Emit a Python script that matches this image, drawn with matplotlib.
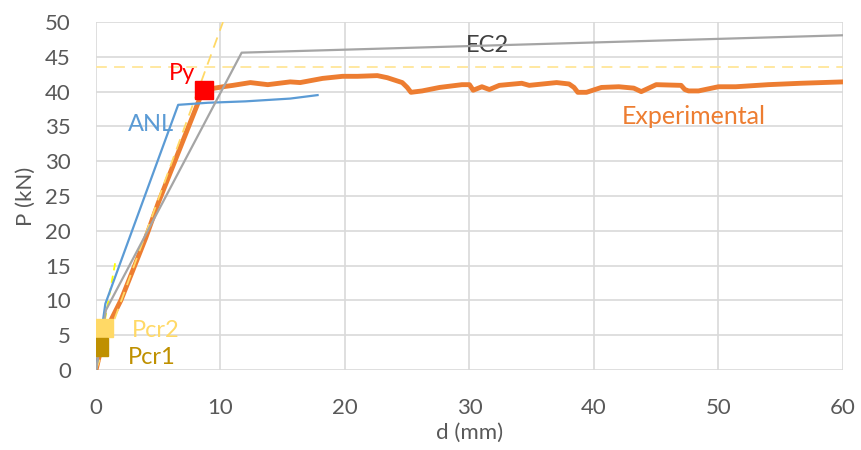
import matplotlib
matplotlib.use("Agg")
import matplotlib.pyplot as plt

plt.rcParams['font.family'] = ['Lato', 'DejaVu Sans']

# Experimental curve
exp_d = [0, 0.4, 0.8, 1.3, 2, 3, 4, 5, 6, 7, 8, 8.6, 9.2, 10.2, 11, 12.4, 13.8, 15.6, 16.4, 18.2,
         19.8, 21, 22.6, 23.4, 24.6, 25.0, 25.3, 26.2, 27.6, 29.4, 30.0, 30.3, 31, 31.6, 32.4, 34.2,
         34.8, 37, 38, 38.4, 38.7, 39.4, 40.6, 42, 43.2, 43.8, 45, 47, 47.3, 47.6, 48.4, 50, 51.4,
         54, 56.6, 60]
exp_p = [0, 3, 5.5, 7.5, 10, 14.5, 19, 24, 28.5, 33, 37.5, 40.2, 40.4, 40.7, 40.9, 41.3, 41.0, 41.4,
         41.3, 41.9, 42.2, 42.2, 42.3, 42.0, 41.3, 40.6, 39.9, 40.1, 40.6, 41.0, 41.0, 40.2, 40.7,
         40.3, 40.9, 41.2, 40.9, 41.3, 41.1, 40.6, 39.9, 39.9, 40.6, 40.7, 40.5, 40.0, 41.0, 40.9,
         40.3, 40.1, 40.1, 40.7, 40.7, 41.0, 41.2, 41.4]

# ANL model
anl_d = [0, 0.75, 6.6, 9, 12, 15.6, 17.8]
anl_p = [0, 9.5, 38.1, 38.4, 38.6, 39.0, 39.5]

# EC2 model
ec2_d = [0, 0.8, 11.7, 60]
ec2_p = [0, 8.6, 45.6, 48.1]

# Construction lines
tang_d = [0, 10.2]
tang_p = [0, 50]
hlin_d = [0, 60]
hlin_p = [43.5, 43.5]
init_d = [0, 1.6]
init_p = [0, 16]

# Points
py_d, py_p = [8.7], [40.2]
pcr2_d, pcr2_p = [0.65], [6.0]
pcr1_d, pcr1_p = [0.25], [3.3]

xticks = [0, 10, 20, 30, 40, 50, 60]
yticks = [0, 5, 10, 15, 20, 25, 30, 35, 40, 45, 50]

fig = plt.figure(figsize=(8.61, 4.5), dpi=100)
ax = fig.add_axes([0.1115, 0.178, 0.979 - 0.1115, 0.951 - 0.178])

ax.plot(init_d, init_p, color='#FFFF00', lw=1.3, ls=(0, (4, 3)), zorder=2)
ax.plot(hlin_d, hlin_p, color='#FFE699', lw=1.3, ls=(0, (6, 4)), zorder=2)
ax.plot(exp_d, exp_p, color='#ED7D31', lw=3.5, zorder=3, solid_joinstyle='round')
ax.plot(tang_d, tang_p, color='#FFD966', lw=1.3, ls=(0, (6, 4)), zorder=4)
ax.plot(anl_d, anl_p, color='#5B9BD5', lw=1.6, zorder=4)
ax.plot(ec2_d, ec2_p, color='#A5A5A5', lw=1.6, zorder=4)

ax.plot(py_d, py_p, marker='s', ms=13, color='#FF0000', ls='none', zorder=5)
ax.plot(pcr2_d, pcr2_p, marker='s', ms=13, color='#FFD966', ls='none', zorder=5)
ax.plot(pcr1_d, pcr1_p, marker='s', ms=13, color='#BF9000', ls='none', zorder=5)

fs = 17
ax.text(5.85, 42.6, 'Py', color='#FF0000', fontsize=fs, va='center')
ax.text(2.85, 5.6, 'Pcr2', color='#FFD966', fontsize=fs, va='center')
ax.text(2.6, 1.8, 'Pcr1', color='#BF9000', fontsize=fs, va='center')
ax.text(2.55, 35.3, 'ANL', color='#5B9BD5', fontsize=fs, va='center')
ax.text(29.7, 46.6, 'EC2', color='#404040', fontsize=fs, va='center')
ax.text(42.2, 36.4, 'Experimental', color='#ED7D31', fontsize=18, va='center')

ax.set_xlim(0, 60)
ax.set_ylim(0, 50)
ax.set_xticks(xticks)
ax.set_yticks(yticks)
ax.grid(True, color='#D9D9D9', lw=1.2)
ax.set_axisbelow(True)
for s in ax.spines.values():
    s.set_visible(False)
ax.tick_params(axis='x', length=0, labelsize=16, labelcolor='#595959', pad=20)
ax.tick_params(axis='y', length=0, labelsize=16, labelcolor='#595959', pad=18)
ax.set_xlabel('d (mm)', fontsize=16, color='#595959', labelpad=4)
ax.set_ylabel('P (kN)', fontsize=16, color='#595959', labelpad=7)

fig.savefig('out.png', dpi=100)
